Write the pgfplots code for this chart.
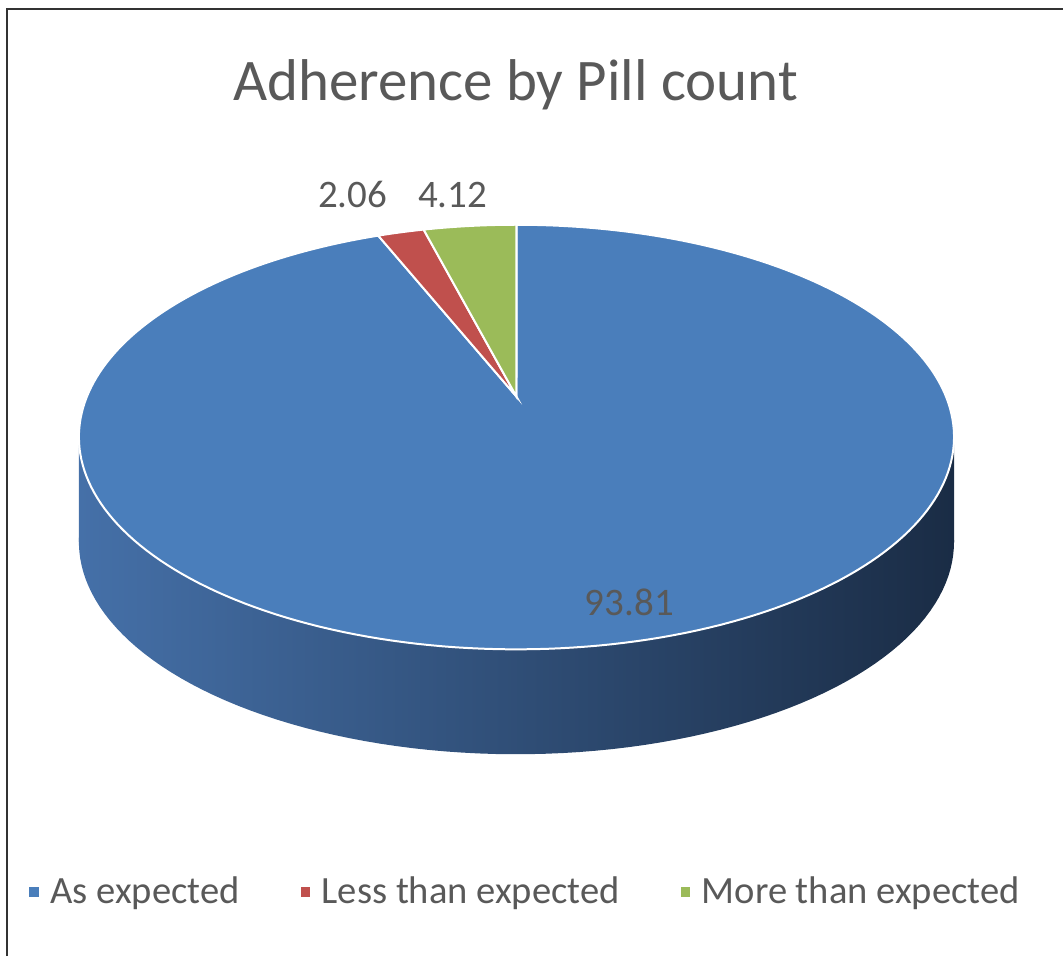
\documentclass[border=0pt]{standalone}
\usepackage{pgfplots}
\pgfplotsset{compat=1.18}
\usepackage{fontspec}
\setmainfont{Carlito}
\definecolor{cBlue}{HTML}{4A7EBB}
\definecolor{cRed}{HTML}{C0504D}
\definecolor{cGreen}{HTML}{9BBB59}
\definecolor{sideL}{HTML}{4570A8}
\definecolor{sideM}{HTML}{2C4B73}
\definecolor{sideR}{HTML}{1A2C45}
\definecolor{txt}{HTML}{595959}
% data (percent)
\def\vAs{93.81}
\def\vLess{2.06}
\def\vMore{4.12}
\begin{document}
\begin{tikzpicture}
\pgfmathsetmacro{\aG}{90+3.6*\vMore}
\pgfmathsetmacro{\aR}{\aG+3.6*\vLess}
\pgfmathsetmacro{\aB}{\aR+3.6*\vAs}
\begin{axis}[
  x=0.5pt, y=0.5pt,
  xmin=0, xmax=1064, ymin=0, ymax=957,
  hide axis, clip=false,
  declare function={PX(\t)=517+430*cos(\t)/(1+0.1906*sin(\t));
                    PY(\t)=560+204.8*sin(\t)/(1+0.1906*sin(\t));},
  legend columns=3,
  legend style={at={(axis cs:527,64)}, anchor=center, draw=none, fill=none,
    font=\fontsize{19.3}{23}\selectfont, text=txt,
    /tikz/every even column/.append style={column sep=28.5pt},
    /tikz/every odd column/.append style={column sep=4pt}},
  legend image code/.code={\fill[#1, draw=none] (0pt,-2.3pt) rectangle (4.6pt,2.3pt);},
]
\path (axis cs:0,0) rectangle (axis cs:1064,957);
% border
\addplot[draw=black!80, line width=1.1pt, forget plot] coordinates {(7,0) (7,948) (1064,948)};
% side wall
\addplot[draw=none, left color=sideL, middle color=sideM, right color=sideR, domain=0:360, samples=200, forget plot]
  ({PX(x)},{PY(x)-105}) -- cycle;
\addplot[draw=none, left color=sideL, middle color=sideM, right color=sideR, forget plot]
  coordinates {(79,414.5) (955,414.5) (955,519.5) (79,519.5)} -- cycle;
% top face slices
\addplot[fill=cBlue, draw=white, line width=1pt, domain=\aR:\aB, samples=240, forget plot]
  ({PX(x)},{PY(x)}) -- (axis cs:517,560) -- cycle;
\addplot[fill=cRed, draw=white, line width=1pt, domain=\aG:\aR, samples=20, forget plot]
  ({PX(x)},{PY(x)}) -- (axis cs:517,560) -- cycle;
\addplot[fill=cGreen, draw=white, line width=1pt, domain=90:\aG, samples=20, forget plot]
  ({PX(x)},{PY(x)}) -- (axis cs:517,560) -- cycle;
% labels
\node[text=txt, font=\fontsize{19.5}{22}\selectfont] at (axis cs:353,762) {\vLess};
\node[text=txt, font=\fontsize{19.5}{22}\selectfont] at (axis cs:453,762) {\vMore};
\node[text=txt, font=\fontsize{19.5}{22}\selectfont] at (axis cs:630,354) {\vAs};
\node[text=txt, font=\fontsize{29.5}{34}\selectfont] at (axis cs:516,872) {Adherence by Pill count};
% legend
\addlegendimage{fill=cBlue}
\addlegendentry{As expected}
\addlegendimage{fill=cRed}
\addlegendentry{Less than expected}
\addlegendimage{fill=cGreen}
\addlegendentry{More than expected}
\end{axis}
\end{tikzpicture}
\end{document}
